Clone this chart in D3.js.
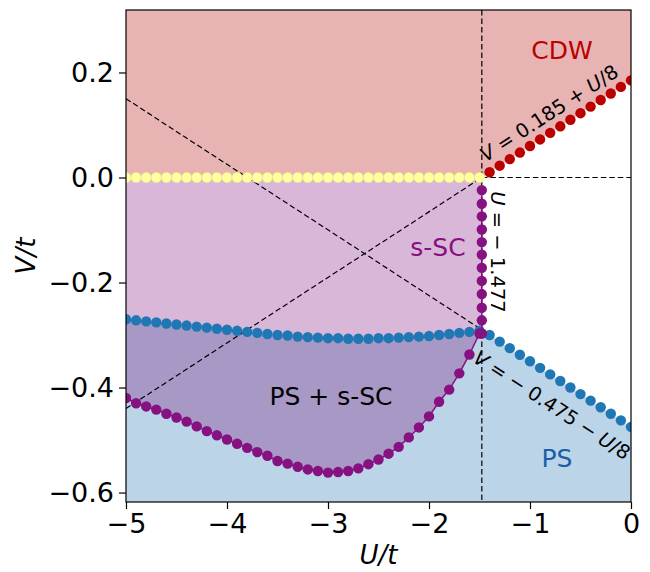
<!DOCTYPE html>
<html>
<head>
<meta charset="utf-8">
<script src="https://cdn.jsdelivr.net/npm/d3@7"></script>
<style>
  html, body { margin: 0; padding: 0; background: #fff; }
  svg { display: block; font-family: "DejaVu Sans", sans-serif; }
</style>
</head>
<body>
<svg id="chart" width="650" height="572"></svg>
<script>
// ---------------- data ----------------
const xTicks = [-5, -4, -3, -2, -1, 0];
const yTicks = [0.2, 0.0, -0.2, -0.4, -0.6];
const xTickLabels = ["\u22125", "\u22124", "\u22123", "\u22122", "\u22121", "0"];
const yTickLabels = ["0.2", "0.0", "\u22120.2", "\u22120.4", "\u22120.6"];

const Uc = -1.477;

const gridU = [-5.0, -4.9, -4.8, -4.7, -4.6, -4.5, -4.4, -4.3, -4.2, -4.1,
               -4.0, -3.9, -3.8, -3.7, -3.6, -3.5, -3.4, -3.3, -3.2, -3.1,
               -3.0, -2.9, -2.8, -2.7, -2.6, -2.5, -2.4, -2.3, -2.2, -2.1,
               -2.0, -1.9, -1.8, -1.7, -1.6, -1.5];

// yellow CDW / s-SC boundary
const yellowV = [0, 0, 0, 0, 0, 0, 0, 0, 0, 0,
                 0, 0, 0, 0, 0, 0, 0, 0, 0, 0,
                 0, 0, 0, 0, 0, 0, 0, 0, 0, 0,
                 0, 0, 0, 0, 0, 0];

// blue upper boundary (s-SC / PS + s-SC)
const blueUpperV = [-0.270, -0.272, -0.274, -0.276, -0.278, -0.280, -0.282, -0.284, -0.286, -0.288,
                    -0.290, -0.292, -0.294, -0.296, -0.298, -0.300, -0.301, -0.303, -0.304, -0.305,
                    -0.306, -0.306, -0.307, -0.307, -0.307, -0.306, -0.306, -0.305, -0.304, -0.303,
                    -0.302, -0.300, -0.298, -0.296, -0.294, -0.292];

// purple lower boundary (PS + s-SC / PS)
const purpleLowerV = [-0.420, -0.430, -0.436, -0.442, -0.450, -0.457, -0.465, -0.474, -0.483, -0.491,
                      -0.499, -0.507, -0.515, -0.523, -0.530, -0.540, -0.545, -0.551, -0.556, -0.559,
                      -0.562, -0.561, -0.559, -0.554, -0.546, -0.537, -0.526, -0.513, -0.495, -0.476,
                      -0.455, -0.427, -0.404, -0.373, -0.337, -0.297];

// purple vertical boundary at U = -1.477
const purpleColV = [-0.024, -0.050, -0.074, -0.099, -0.123, -0.147, -0.172, -0.197, -0.222, -0.248, -0.272, -0.297];

// right-hand boundaries
const rightU = [-1.4, -1.3, -1.2, -1.1, -1.0, -0.9, -0.8, -0.7, -0.6, -0.5, -0.4, -0.3, -0.2, -0.1, 0.0];
const redV = [0.010, 0.0225, 0.035, 0.0475, 0.060, 0.0725, 0.085, 0.0975, 0.110, 0.1225, 0.135, 0.1475, 0.160, 0.1725, 0.185];
const blueRightV = [-0.300, -0.3125, -0.325, -0.3375, -0.350, -0.3625, -0.375, -0.3875, -0.400, -0.4125, -0.425, -0.4375, -0.450, -0.4625, -0.475];

// dashed guide lines (U, V endpoints)
const guideA = [[-5, 0.150], [Uc, -0.290]];
const guideB = [[-5, -0.440], [Uc, 0.000]];
const guideH = [[Uc, 0], [0, 0]];

// ---------------- drawing ----------------
const svg = d3.select("#chart");
const L = 126, R = 631, T = 10, B = 502;
const yMin = -0.618, yMax = 0.319;
const x = d3.scaleLinear().domain([-5, 0]).range([L, R]);
const y = d3.scaleLinear().domain([yMin, yMax]).range([B, T]);

const line = d3.line().x(d => x(d[0])).y(d => y(d[1]));
const zip = (us, vs) => us.map((u, i) => [u, vs[i]]);

const yellowPts = zip(gridU, yellowV);
const blueUpperPts = zip(gridU, blueUpperV);
const purpleLowerPts = zip(gridU, purpleLowerV);
const purpleColPts = purpleColV.map(v => [Uc, v]);
const redPts = zip(rightU, redV);
const blueRightPts = zip(rightU, blueRightV);
const cross = [Uc, purpleColV[purpleColV.length - 1]];

svg.append("defs").append("clipPath").attr("id", "clip")
  .append("rect").attr("x", L).attr("y", T).attr("width", R - L).attr("height", B - T);
const gPlot = svg.append("g").attr("clip-path", "url(#clip)");

// fills
const cdwPoly = [[-5, yMax], [0, yMax]].concat(redPts.slice().reverse(), [[Uc, 0], [-5, 0]]);
const sscPoly = [[-5, 0], [Uc, 0], cross].concat(blueUpperPts.slice().reverse());
const mixPoly = blueUpperPts.concat([cross], purpleLowerPts.slice().reverse());
const psPoly = [[-5, yMin]].concat(purpleLowerPts, [cross], blueRightPts, [[0, yMin]]);

gPlot.append("path").attr("d", line(cdwPoly) + "Z").attr("fill", "#e7b3b3");
gPlot.append("path").attr("d", line(sscPoly) + "Z").attr("fill", "#d9b7d9");
gPlot.append("path").attr("d", line(mixPoly) + "Z").attr("fill", "#a898c6");
gPlot.append("path").attr("d", line(psPoly) + "Z").attr("fill", "#bcd4e8");

// dashed lines
const dash = "5.5,3";
[guideA, guideB, guideH].forEach(seg => {
  gPlot.append("path").attr("d", line(seg)).attr("fill", "none")
    .attr("stroke", "#000").attr("stroke-width", 1.2).attr("stroke-dasharray", dash);
});
gPlot.append("line").attr("x1", x(Uc)).attr("x2", x(Uc)).attr("y1", T).attr("y2", B)
  .attr("stroke", "#000").attr("stroke-width", 1.2).attr("stroke-dasharray", dash);

// markers
const r = 5.2;
const dots = (pts, fill, stroke, sw) => {
  gPlot.append("g").selectAll("circle").data(pts).join("circle")
    .attr("cx", d => x(d[0])).attr("cy", d => y(d[1])).attr("r", r)
    .attr("fill", fill).attr("stroke", stroke || "none").attr("stroke-width", sw || 0);
};
dots(yellowPts, "#ffffa0", "#e6dc8c", 0.6);
dots(blueUpperPts, "#1f77b4");
dots(blueRightPts, "#1f77b4");
dots(redPts, "#bb0000");

const purpleLinePts = purpleLowerPts.concat(purpleColPts.slice().reverse());
gPlot.append("path").attr("d", line(purpleLinePts)).attr("fill", "none")
  .attr("stroke", "#861180").attr("stroke-width", 1.5);
dots(purpleLowerPts, "#861180");
dots(purpleColPts, "#861180");

// region labels
const lab = (txt, cx, cy, color, size) => svg.append("text")
  .attr("x", cx).attr("y", cy).attr("text-anchor", "middle").attr("dominant-baseline", "central")
  .attr("font-size", size).attr("fill", color).text(txt);
lab("CDW", 562, 50, "#bb0000", 25);
lab("s-SC", 438, 247, "#861180", 25);
lab("PS + s-SC", 331, 396, "#000", 25);
lab("PS", 557, 458, "#1a5ea8", 25);

// formula annotations (math style)
const mathText = (parts, cx, cy, angle, size) => {
  const t = svg.append("text")
    .attr("transform", `translate(${cx},${cy}) rotate(${angle})`)
    .attr("text-anchor", "middle").attr("dominant-baseline", "central")
    .attr("font-size", size).attr("fill", "#000");
  parts.forEach(p => t.append("tspan").attr("font-style", p[1] ? "italic" : "normal").text(p[0]));
};
const slopeDeg = Math.atan2(y(0) - y(0.125), x(1) - x(0)) * 180 / Math.PI;
mathText([["V", 1], [" = 0.185 + ", 0], ["U", 1], ["/8", 0]], 549, 113, -slopeDeg, 19.5);
mathText([["U", 1], [" = \u2212 1.477", 0]], 498, 252, 90, 19.5);
mathText([["V", 1], [" = \u2212 0.475 \u2212 ", 0], ["U", 1], ["/8", 0]], 552, 405, slopeDeg, 19.5);

// axes
const xAxis = d3.axisBottom(x).tickValues(xTicks).tickSize(7).tickPadding(5)
  .tickFormat((d, i) => xTickLabels[i]);
const yAxis = d3.axisLeft(y).tickValues(yTicks).tickSize(7).tickPadding(5)
  .tickFormat((d, i) => yTickLabels[i]);
const gx = svg.append("g").attr("transform", `translate(0,${B})`).call(xAxis);
const gy = svg.append("g").attr("transform", `translate(${L},0)`).call(yAxis);
[gx, gy].forEach(g => {
  g.attr("font-size", 27).attr("font-family", "DejaVu Sans, sans-serif");
  g.select(".domain").remove();
  g.selectAll("line").attr("stroke", "#000").attr("stroke-width", 1.2);
  g.selectAll("text").attr("font-size", 27).attr("fill", "#000");
});

// frame
svg.append("rect").attr("x", L).attr("y", T).attr("width", R - L).attr("height", B - T)
  .attr("fill", "none").attr("stroke", "#000").attr("stroke-width", 1.2);

// axis titles
svg.append("text").attr("x", (L + R) / 2).attr("y", 555).attr("text-anchor", "middle")
  .attr("dominant-baseline", "central").attr("font-size", 26).attr("font-style", "italic").text("U/t");
svg.append("text").attr("transform", `translate(26,${(T + B) / 2}) rotate(-90)`)
  .attr("text-anchor", "middle").attr("dominant-baseline", "central")
  .attr("font-size", 26).attr("font-style", "italic").text("V/t");
</script>
</body>
</html>
